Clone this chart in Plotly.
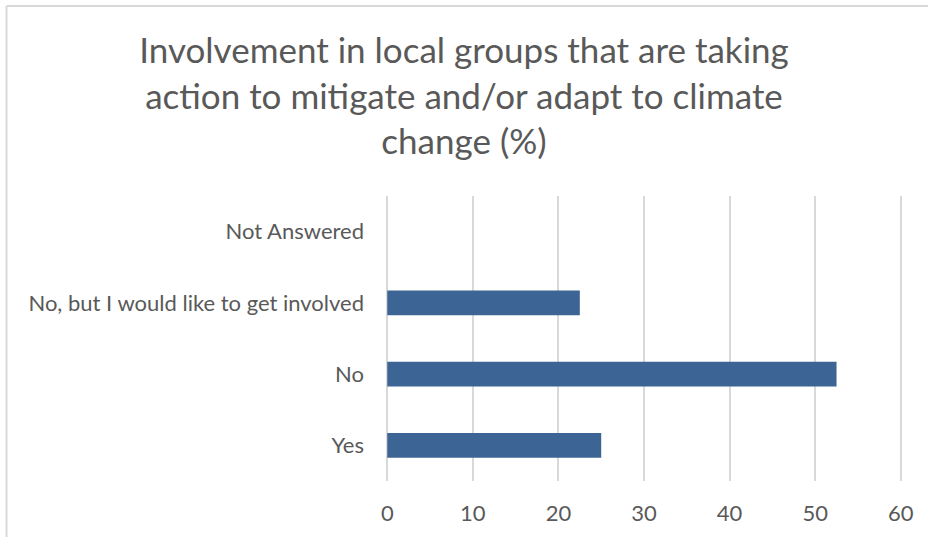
import plotly.graph_objects as go

# Survey answers (bottom to top) and share of respondents in percent
categories = ["Yes", "No", "No, but I would like to get involved", "Not Answered"]
percentages = [25.0, 52.5, 22.5, 0.0]
x_ticks = [0, 10, 20, 30, 40, 50, 60]

title_text = ("Involvement in local groups that are taking<br>"
              "action to mitigate and/or adapt to climate<br>"
              "change (%)")

W, H = 928, 537
X_MIN, X_MAX = -0.5, 60.5
ML, MR, MT, MB = 383, 23, 196, 56
PW, PH = W - ML - MR, H - MT - MB

TEXT = "#595959"
GRID = "#D9D9D9"
BAR = "#3C6494"
FONT = "Lato"


def px_to_paper_x(px):
    return (px - ML) / PW


def px_to_paper_y(py):
    return (H - MB - py) / PH


fig = go.Figure(
    go.Bar(
        x=percentages,
        y=categories,
        orientation="h",
        marker=dict(color=BAR, line=dict(width=0)),
        hoverinfo="x+y",
    )
)

# Light frame along the top and left edges of the chart
frame = dict(type="line", xref="paper", yref="paper",
             line=dict(color=GRID, width=2), layer="above")
fig.add_shape(**frame, x0=px_to_paper_x(6.5), x1=px_to_paper_x(W + 2),
              y0=px_to_paper_y(6), y1=px_to_paper_y(6))
fig.add_shape(**frame, x0=px_to_paper_x(6.5), x1=px_to_paper_x(6.5),
              y0=px_to_paper_y(6), y1=px_to_paper_y(H + 2))

fig.update_layout(
    template="none",
    width=W,
    height=H,
    margin=dict(l=ML, r=MR, t=MT, b=MB, autoexpand=False),
    paper_bgcolor="white",
    plot_bgcolor="white",
    font=dict(family=FONT, color=TEXT),
    bargap=0.65,
    showlegend=False,
    title=dict(
        text=title_text,
        x=0.5,
        xref="container",
        xanchor="center",
        y=1 - 63 / H,
        yanchor="top",
        font=dict(family=FONT, size=35, color=TEXT),
    ),
    xaxis=dict(
        range=[X_MIN, X_MAX],
        tickvals=x_ticks,
        showgrid=True,
        gridcolor=GRID,
        gridwidth=1.5,
        zeroline=False,
        showline=False,
        ticks="",
        ticklabelstandoff=17,
        tickfont=dict(family=FONT, size=22, color=TEXT),
        fixedrange=True,
        automargin=False,
    ),
    yaxis=dict(
        categoryorder="array",
        categoryarray=categories,
        showgrid=False,
        zeroline=False,
        showline=False,
        ticks="",
        ticklabelstandoff=18,
        tickfont=dict(family=FONT, size=22, color=TEXT),
        fixedrange=True,
        automargin=False,
    ),
)

fig.write_html("out.html")
